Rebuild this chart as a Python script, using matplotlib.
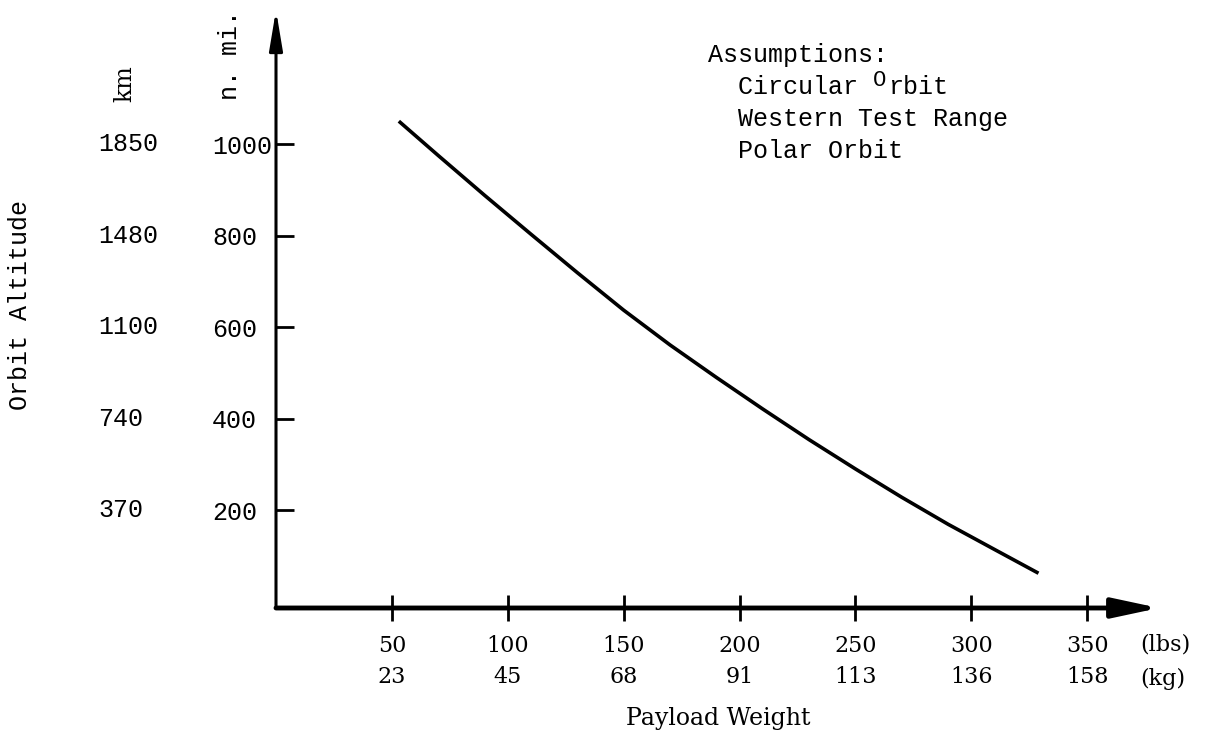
import numpy as np
import matplotlib
matplotlib.use('Agg')
import matplotlib.pyplot as plt
from matplotlib.patches import ArrowStyle

# curve (payload lbs vs orbit altitude n. mi.)
payload_lbs = [53, 70, 90, 110, 130, 150, 170, 190, 210, 230, 250, 270, 290, 310, 329]
altitude_nmi = [1050, 975, 888, 803, 719, 637, 561, 490, 421, 354, 290, 228, 169, 114, 62]

x_ticks = [50, 100, 150, 200, 250, 300, 350]
x_kg = ['23', '45', '68', '91', '113', '136', '158']
y_ticks = [200, 400, 600, 800, 1000]
y_km = ['370', '740', '1100', '1480', '1850']
assumptions = ['Assumptions:', '  Circular', '  Western Test Range', '  Polar Orbit']

mono = 'Liberation Mono'
serif = 'DejaVu Serif'

W, H = 1222, 734
fig = plt.figure(figsize=(W / 100, H / 100), dpi=100)
# axes placed so the data scale matches the scan in pixels
ax = fig.add_axes([276 / W, 126 / H, 883 / W, 598 / H])
ax.set_xlim(0, 381)
ax.set_ylim(-14, 1293)
for s in ax.spines.values():
    s.set_visible(False)

# axes with arrow heads
ax.annotate('', xy=(381, -14), xytext=(0, -14), annotation_clip=False,
            arrowprops=dict(arrowstyle=ArrowStyle('-|>', head_length=2.8, head_width=0.6),
                            mutation_scale=10, lw=3.5, color='black', shrinkA=0, shrinkB=0))
ax.annotate('', xy=(0, 1293), xytext=(0, -14), annotation_clip=False,
            arrowprops=dict(arrowstyle=ArrowStyle('-|>', head_length=2.4, head_width=0.4),
                            mutation_scale=10, lw=2.2, color='black', shrinkA=0, shrinkB=0))

ax.plot(payload_lbs, altitude_nmi, color='black', lw=2.6, solid_capstyle='butt')

# x ticks: lbs over kg
ax.set_xticks(x_ticks)
ax.set_xticklabels([f'{a}\n{b}' for a, b in zip(x_ticks, x_kg)],
                   fontfamily=serif, fontsize=16, linespacing=1.5)
ax.tick_params(axis='x', direction='inout', length=19, width=2, pad=10)

# y ticks: n. mi., left aligned column
ax.set_yticks(y_ticks)
ax.set_yticklabels([str(v) for v in y_ticks], fontfamily=mono, fontsize=18)
ax.tick_params(axis='y', direction='in', length=13, width=2, pad=46)
for lab in ax.get_yticklabels():
    lab.set_horizontalalignment('left')

# km column
for v, km in zip(y_ticks, y_km):
    ax.text(-0.2016, v, km, transform=ax.get_yaxis_transform(), ha='left', va='center',
            fontfamily=mono, fontsize=18)

fig.text(125 / W, 1 - 84 / H, 'km', rotation=90, ha='center', va='center',
         fontfamily=serif, fontsize=17)
fig.text(230 / W, 1 - 55 / H, 'n. mi.', rotation=90, ha='center', va='center',
         fontfamily=mono, fontsize=18)
fig.text(20 / W, 1 - 305 / H, 'Orbit Altitude', rotation=90, ha='center', va='center',
         fontfamily=mono, fontsize=18)

fig.text(1140 / W, 1 - 645 / H, '(lbs)', ha='left', va='center', fontfamily=serif, fontsize=16)
fig.text(1140 / W, 1 - 679 / H, '(kg)', ha='left', va='center', fontfamily=serif, fontsize=16)
fig.text(718 / W, 1 - 718 / H, 'Payload Weight', ha='center', va='center',
         fontfamily=serif, fontsize=17)

# assumptions block (typed, with the raised "O" of "Orbit")
col = 15.0  # px per monospace character at 18 pt
for i, line in enumerate(assumptions):
    fig.text(708 / W, 1 - (55 + 32 * i) / H, line, ha='left', va='center',
             fontfamily=mono, fontsize=18)
fig.text((708 + 11 * col) / W, 1 - (55 + 32 - 7) / H, 'O', ha='left', va='center',
         fontfamily=mono, fontsize=16)
fig.text((708 + 12 * col) / W, 1 - (55 + 32) / H, 'rbit', ha='left', va='center',
         fontfamily=mono, fontsize=18)

fig.savefig('out.png', dpi=100)
